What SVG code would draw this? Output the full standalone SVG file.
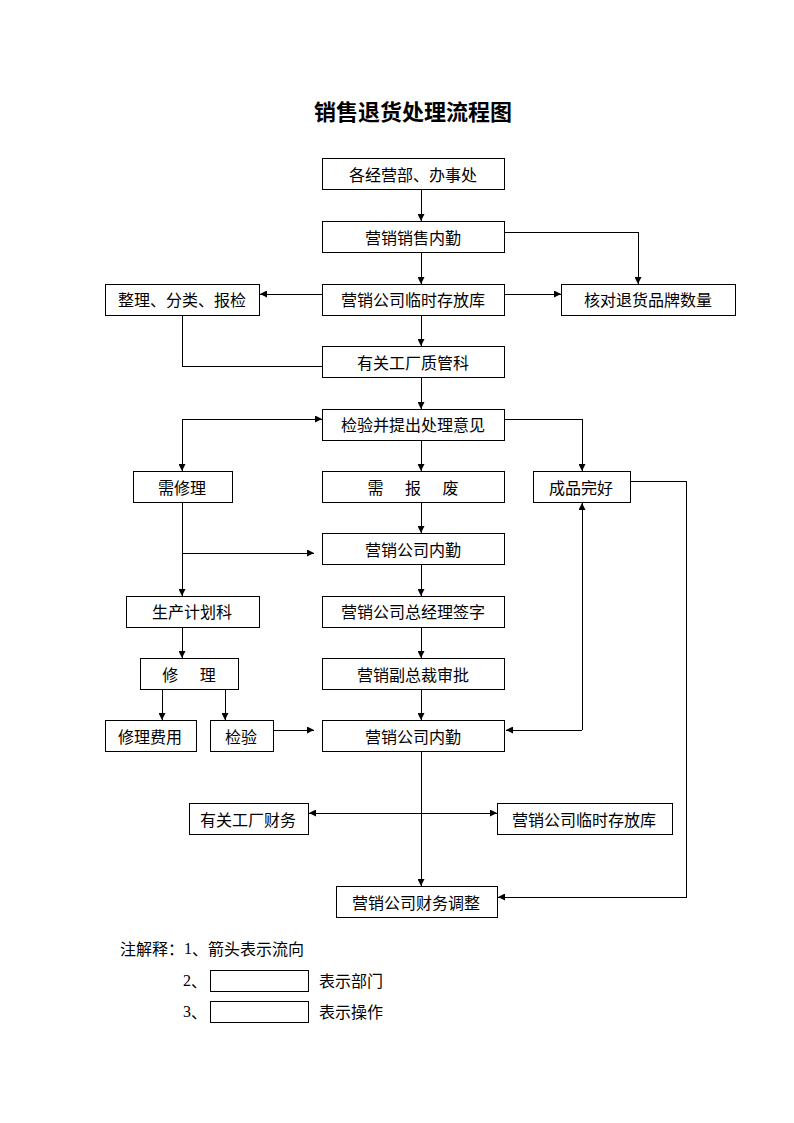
<svg xmlns="http://www.w3.org/2000/svg" width="794" height="1123" viewBox="0 0 794 1123">
<defs>
<marker id="ah" viewBox="0 0 10 10" refX="10" refY="5" markerWidth="7" markerHeight="7" markerUnits="userSpaceOnUse" orient="auto">
<path d="M0,0 L10,5 L0,10 z" fill="#000"/>
</marker>
<style>
rect.b{fill:#fff;stroke:#000;stroke-width:1;shape-rendering:crispEdges}
text{font-family:"Noto Sans CJK SC","Noto Sans",sans-serif;font-size:16px;fill:#000;text-anchor:middle;dominant-baseline:central}
.t{font-size:22px;font-weight:bold}
.l{text-anchor:start}
.c line,.c polyline{stroke:#000;stroke-width:1;fill:none;shape-rendering:crispEdges}
.a{marker-end:url(#ah)}
.n{font-family:"Liberation Serif","Noto Sans CJK SC",serif}
</style>
</defs>
<rect width="794" height="1123" fill="#fff"/>
<text class="t" x="413" y="110">销售退货处理流程图</text>

<g class="c">
<line class="a" x1="421" y1="189" x2="421" y2="221"/>
<polyline class="a" points="504,232 638,232 638,284"/>
<line class="a" x1="421" y1="252" x2="421" y2="284"/>
<line class="a" x1="322" y1="294" x2="260" y2="294"/>
<line class="a" x1="504" y1="294" x2="561" y2="294"/>
<line class="a" x1="421" y1="315" x2="421" y2="346"/>
<polyline points="182,315 182,366 322,366"/>
<line class="a" x1="421" y1="377" x2="421" y2="409"/>
<line class="a" x1="182" y1="419" x2="322" y2="419"/>
<line class="a" x1="182" y1="419" x2="182" y2="471"/>
<polyline class="a" points="504,419 582,419 582,471"/>
<line class="a" x1="421" y1="440" x2="421" y2="471"/>
<line class="a" x1="421" y1="502" x2="421" y2="533"/>
<line class="a" x1="182" y1="502" x2="182" y2="596"/>
<line class="a" x1="182" y1="553" x2="314" y2="553"/>
<line class="a" x1="421" y1="564" x2="421" y2="596"/>
<line class="a" x1="182" y1="627" x2="182" y2="658"/>
<line class="a" x1="421" y1="627" x2="421" y2="658"/>
<line class="a" x1="162" y1="689" x2="162" y2="720"/>
<line class="a" x1="225" y1="689" x2="225" y2="720"/>
<line class="a" x1="421" y1="689" x2="421" y2="720"/>
<line class="a" x1="273" y1="730" x2="314" y2="730"/>
<line class="a" x1="582" y1="730" x2="582" y2="503"/>
<line class="a" x1="582" y1="730" x2="506" y2="730"/>
<polyline class="a" points="630,481 686,481 686,897 498,897"/>
<line class="a" x1="421" y1="751" x2="421" y2="886"/>
<line class="a" x1="400" y1="813" x2="309" y2="813"/>
<line class="a" x1="400" y1="813" x2="497" y2="813"/>
</g>

<g id="n1"><rect class="b" x="322" y="158" width="182" height="31"/><text x="413" y="174">各经营部、办事处</text></g>
<g id="n2"><rect class="b" x="322" y="221" width="182" height="31"/><text x="413" y="237">营销销售内勤</text></g>
<g id="n3"><rect class="b" x="322" y="284" width="182" height="31"/><text x="413" y="299">营销公司临时存放库</text></g>
<g id="n4"><rect class="b" x="105" y="284" width="154" height="31"/><text x="182" y="299">整理、分类、报检</text></g>
<g id="n5"><rect class="b" x="561" y="284" width="174" height="31"/><text x="648" y="299">核对退货品牌数量</text></g>
<g id="n6"><rect class="b" x="322" y="346" width="182" height="31"/><text x="413" y="362">有关工厂质管科</text></g>
<g id="n7"><rect class="b" x="322" y="409" width="182" height="31"/><text x="413" y="424">检验并提出处理意见</text></g>
<g id="n8"><rect class="b" x="133" y="471" width="99" height="31"/><text x="182" y="487">需修理</text></g>
<g id="n9"><rect class="b" x="322" y="471" width="182" height="31"/><text x="413" y="487" xml:space="preserve">需      报      废</text></g>
<g id="n10"><rect class="b" x="533" y="471" width="97" height="31"/><text x="581" y="487">成品完好</text></g>
<g id="n11"><rect class="b" x="322" y="533" width="182" height="31"/><text x="413" y="549">营销公司内勤</text></g>
<g id="n12"><rect class="b" x="126" y="596" width="133" height="31"/><text x="192" y="611">生产计划科</text></g>
<g id="n13"><rect class="b" x="322" y="596" width="182" height="31"/><text x="413" y="611">营销公司总经理签字</text></g>
<g id="n14"><rect class="b" x="140" y="658" width="98" height="31"/><text x="189" y="674" xml:space="preserve">修      理</text></g>
<g id="n15"><rect class="b" x="322" y="658" width="182" height="31"/><text x="413" y="674">营销副总裁审批</text></g>
<g id="n16"><rect class="b" x="105" y="720" width="91" height="31"/><text x="150" y="736">修理费用</text></g>
<g id="n17"><rect class="b" x="210" y="720" width="63" height="31"/><text x="241" y="736">检验</text></g>
<g id="n18"><rect class="b" x="322" y="720" width="182" height="31"/><text x="413" y="736">营销公司内勤</text></g>
<g id="n19"><rect class="b" x="189" y="803" width="119" height="31"/><text x="248" y="819">有关工厂财务</text></g>
<g id="n20"><rect class="b" x="497" y="803" width="175" height="31"/><text x="584" y="819">营销公司临时存放库</text></g>
<g id="n21"><rect class="b" x="336" y="886" width="161" height="31"/><text x="416" y="902">营销公司财务调整</text></g>

<g id="legend">
<text class="l" x="120" y="948">注解释：<tspan class="n">1</tspan>、箭头表示流向</text>
<text class="l" x="183" y="980"><tspan class="n">2</tspan>、</text>
<rect class="b" x="210" y="970" width="98" height="21"/>
<text class="l" x="319" y="980">表示部门</text>
<text class="l" x="183" y="1011"><tspan class="n">3</tspan>、</text>
<rect class="b" x="210" y="1001" width="98" height="21"/>
<text class="l" x="319" y="1011">表示操作</text>
</g>
</svg>
